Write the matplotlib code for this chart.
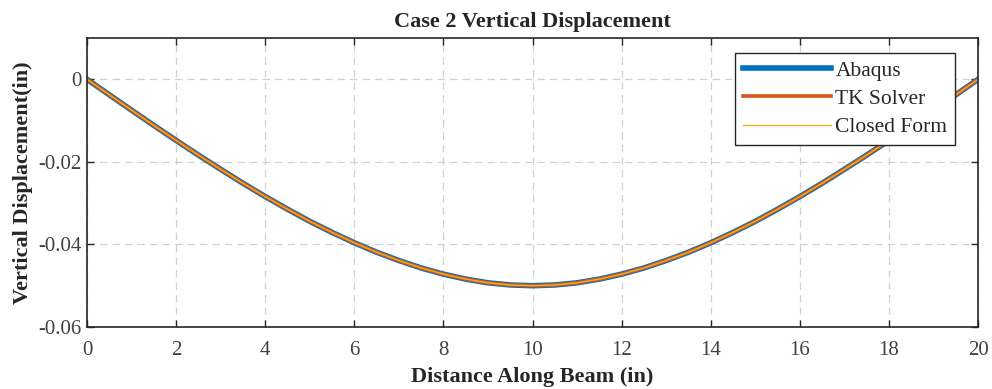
import matplotlib
matplotlib.use('Agg')
import matplotlib.pyplot as plt
import numpy as np

# Valores (deslocamento vertical, in)
x = np.array([0, 0.5, 1, 1.5, 2, 2.5, 3, 3.5, 4, 4.5, 5, 5.5, 6, 6.5, 7, 7.5,
              8, 8.5, 9, 9.5, 10, 10.5, 11, 11.5, 12, 12.5, 13, 13.5, 14,
              14.5, 15, 15.5, 16, 16.5, 17, 17.5, 18, 18.5, 19, 19.5, 20])
half = [0.0, -0.00375, -0.00748, -0.01117, -0.0148, -0.01836, -0.0218,
        -0.02518, -0.0284, -0.03147, -0.0344, -0.03709, -0.0396, -0.04188,
        -0.0439, -0.0457, -0.0472, -0.0484, -0.0493, -0.04982, -0.05]
y_abaqus = np.array(half + half[-2::-1])
y_tk = np.array(half + half[-2::-1])
y_closed = np.array(half + half[-2::-1])

plt.rcParams['font.family'] = ['Liberation Serif', 'DejaVu Serif']

fig = plt.figure(figsize=(9.92, 3.89), dpi=100)
ax = fig.add_axes([0.0877, 0.1594, 0.8983, 0.7429])

ax.plot(x, y_abaqus, color='#0072BD', linewidth=4, label='Abaqus')
ax.plot(x, y_tk, color='#D95319', linewidth=2.6, label='TK Solver')
ax.plot(x, y_closed, color='#EDB120', linewidth=1.0, label='Closed Form')

ax.set_xlim(0, 20)
ax.set_ylim(-0.06, 0.01)
ax.set_xticks(np.arange(0, 21, 2))
ax.set_yticks([-0.06, -0.04, -0.02, 0])
ax.set_yticklabels(['-0.06', '-0.04', '-0.02', '0'])
ax.grid(True, color='#d0d0d0', linestyle=(0, (6, 4)), linewidth=0.9)
ax.tick_params(direction='in', top=True, right=True, length=5, width=1,
               labelsize=15, labelcolor='#404040', color='#262626')
ax.tick_params(axis='x', pad=10)
ax.tick_params(axis='y', pad=4)
for s in ax.spines.values():
    s.set_color('#262626')
    s.set_linewidth(1.2)

ax.set_title('Case 2 Vertical Displacement', fontsize=16, fontweight='bold',
             color='#262626', pad=8)
ax.set_xlabel('Distance Along Beam (in)', fontsize=16, fontweight='bold',
              color='#262626', labelpad=5)
ax.set_ylabel('Vertical Displacement(in)', fontsize=16, fontweight='bold',
              color='#262626', labelpad=4)

leg = ax.legend(loc='upper right', bbox_to_anchor=(0.974, 0.948), fontsize=15.5,
                fancybox=False, framealpha=1, edgecolor='#262626',
                handlelength=4.1, borderpad=0.35, labelspacing=0.38,
                handletextpad=0.2, borderaxespad=0)
leg.get_frame().set_linewidth(1.0)
for t in leg.get_texts():
    t.set_color('#262626')

fig.savefig('out.png', dpi=100)
